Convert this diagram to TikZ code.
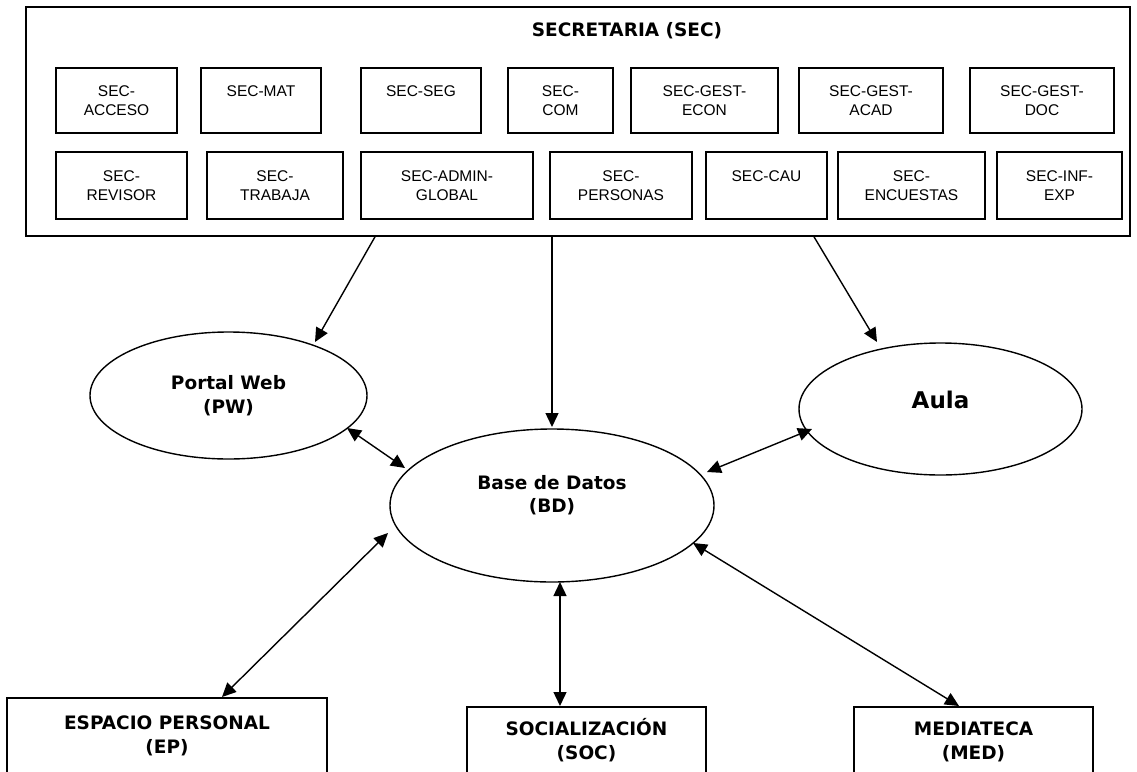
\documentclass[tikz,border=0pt]{standalone}
\usepackage{fontspec}
\setmainfont{Liberation Sans}
\newfontfamily\dvsans{DejaVu Sans}
\usetikzlibrary{arrows.meta,shapes.geometric}
\tikzset{
  tri/.tip={Triangle[length=14pt,width=13pt]},
  secbox/.style={draw, line width=1.6pt, inner sep=0pt, align=center,
    font=\fontsize{15.5}{18.5}\selectfont},
  rowone/.style={secbox, minimum height=65pt},
  rowtwo/.style={secbox, minimum height=67pt},
  oval/.style={draw, ellipse, line width=1.4pt, inner sep=0pt, align=center,
    font=\dvsans\bfseries\fontsize{18.5}{23.5}\selectfont},
  bigbox/.style={draw, line width=1.6pt, inner sep=0pt, anchor=north,
    font=\dvsans\bfseries\fontsize{18.5}{23.5}\selectfont},
  conn/.style={line width=1.4pt, -tri},
  biconn/.style={line width=1.4pt, tri-tri},
}
\begin{document}
\begin{tikzpicture}[x=1pt,y=-1pt]
\useasboundingbox (0,0) rectangle (1137,771);
\fill[white] (0,0) rectangle (1137,771);
\clip (0,0) rectangle (1137,771);
% Secretaria container
\node[draw, line width=1.6pt, minimum width=1104pt, minimum height=229pt, inner sep=0pt] (sec) at (578,121.5) {};
\node[font=\dvsans\bfseries\fontsize{18.5}{22}\selectfont, inner sep=0pt] (sectitle) at (627,31) {SECRETARIA (SEC)};
% row 1
\node[rowone, minimum width=121pt] (acceso) at (116.5,100.5) {SEC-\\ACCESO};
\node[rowone, minimum width=120pt] (mat) at (261,100.5) {SEC-MAT\\\mbox{}};
\node[rowone, minimum width=120pt] (seg) at (421,100.5) {SEC-SEG\\\mbox{}};
\node[rowone, minimum width=105pt] (com) at (560.5,100.5) {SEC-\\COM};
\node[rowone, minimum width=147pt] (econ) at (704.5,100.5) {SEC-GEST-\\ECON};
\node[rowone, minimum width=144pt] (acad) at (871,100.5) {SEC-GEST-\\ACAD};
\node[rowone, minimum width=144pt] (doc) at (1042,100.5) {SEC-GEST-\\DOC};
% row 2
\node[rowtwo, minimum width=131pt] (revisor) at (121.5,185.5) {SEC-\\REVISOR};
\node[rowtwo, minimum width=136pt] (trabaja) at (275,185.5) {SEC-\\TRABAJA};
\node[rowtwo, minimum width=172pt] (admin) at (447,185.5) {SEC-ADMIN-\\GLOBAL};
\node[rowtwo, minimum width=142pt] (personas) at (621,185.5) {SEC-\\PERSONAS};
\node[rowtwo, minimum width=121pt] (cau) at (766.5,185.5) {SEC-CAU\\\mbox{}};
\node[rowtwo, minimum width=147pt] (encuestas) at (911.5,185.5) {SEC-\\ENCUESTAS};
\node[rowtwo, minimum width=125pt] (infexp) at (1059.5,185.5) {SEC-INF-\\EXP};
% ellipses
\node[oval, minimum width=277pt, minimum height=127pt] (pw) at (228.5,395.5) {Portal Web\\(PW)};
\node[oval, minimum width=324pt, minimum height=153pt] (bd) at (552,505.5) {Base de Datos\\(BD)\\\mbox{}};
\node[oval, minimum width=283pt, minimum height=132pt, font=\dvsans\bfseries\fontsize{23}{19}\selectfont] (aula) at (940.5,409) {Aula\\\mbox{}};
% bottom boxes
\node[bigbox, minimum width=320pt] (ep) at (167,697) {\parbox[t][100pt][t]{310pt}{\centering\rule{0pt}{32pt}ESPACIO PERSONAL\\(EP)}};
\node[bigbox, minimum width=239pt] (soc) at (586.5,706) {\parbox[t][100pt][t]{230pt}{\centering\rule{0pt}{28.7pt}SOCIALIZACIÓN\\(SOC)}};
\node[bigbox, minimum width=239pt] (med) at (973.5,706) {\parbox[t][100pt][t]{230pt}{\centering\rule{0pt}{28.7pt}MEDIATECA\\(MED)}};
% connectors
\draw[conn] ([xshift=-203pt]sec.south) -- ([shift={(86.5,-53.5)}]pw.center);
\draw[conn] ([xshift=-26pt]sec.south) -- ([shift={(0,-78.5)}]bd.center);
\draw[conn] ([xshift=236pt]sec.south) -- ([shift={(-63.5,-67)}]aula.center);
\draw[biconn] ([shift={(118.5,32.5)}]pw.center) -- ([shift={(-147,-37.5)}]bd.center);
\draw[biconn] ([shift={(-128.5,20)}]aula.center) -- ([shift={(155,-33.5)}]bd.center);
\draw[biconn] ([xshift=55pt]ep.north) -- ([shift={(-164,27.5)}]bd.center);
\draw[biconn] ([xshift=-26.5pt]soc.north) -- ([shift={(8,76.5)}]bd.center);
\draw[biconn] ([xshift=-14.5pt]med.north) -- ([shift={(141,37.5)}]bd.center);
\end{tikzpicture}
\end{document}
